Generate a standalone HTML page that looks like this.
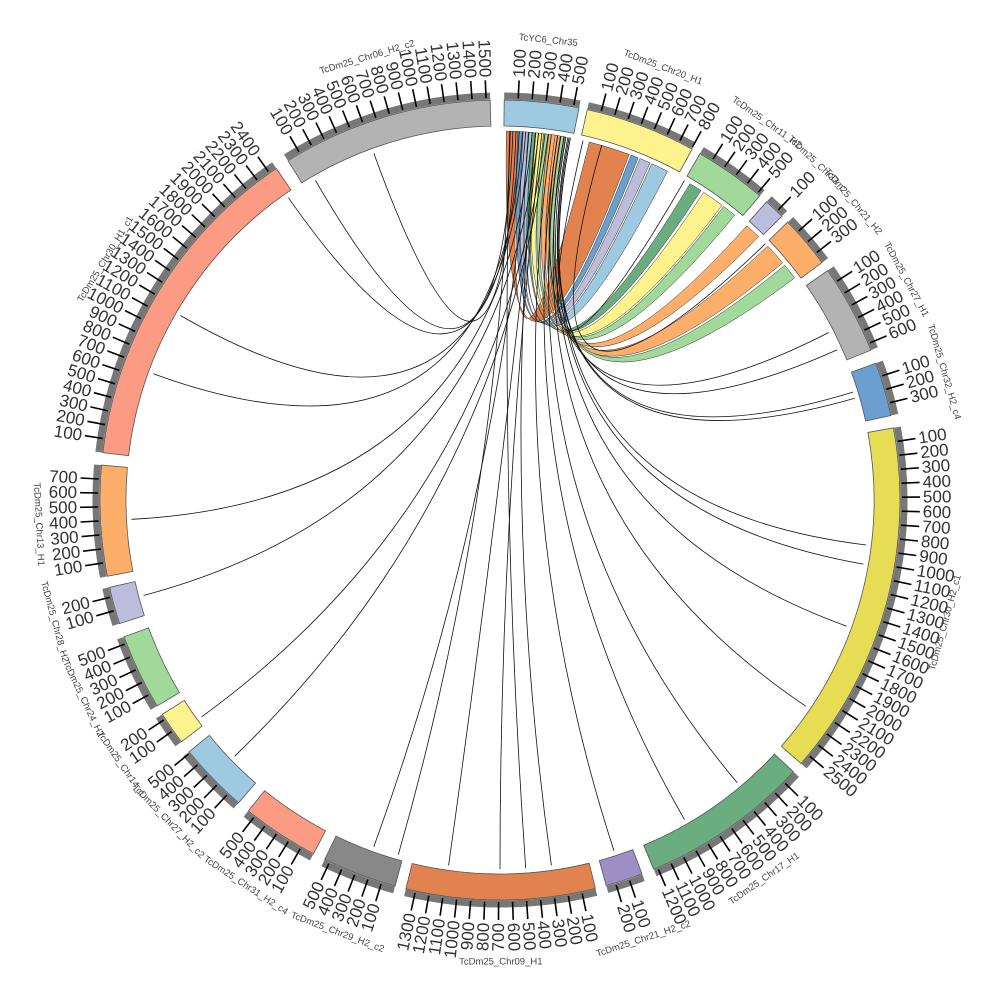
<!DOCTYPE html>
<html><head><meta charset="utf-8">
<style>html,body{margin:0;padding:0;background:#fff;}svg{display:block;}</style>
</head><body>
<svg id="s" width="1000" height="1000" xmlns="http://www.w3.org/2000/svg" font-family="Liberation Sans, sans-serif"></svg>
<script>
const S=document.getElementById('s');const C=500,R0=374,R1=400,RL=369;
const segs=[
["TcYC6_Chr35",0.6,11.4,"#9ecae1"],
["TcDm25_Chr20_H1",12.6,28.7,"#fdf28c"],
["TcDm25_Chr11_H2",30,40.5,"#a1d99b"],
["TcDm25_Chr33_c",41.8,44.8,"#bcbddc"],
["TcDm25_Chr21_H2",46,53.6,"#fdae6b"],
["TcDm25_Chr27_H1",55,68,"#b3b3b3"],
["TcDm25_Chr32_H2_c4",70,77.8,"#6a9fcf"],
["TcDm25_Chr30_H2_c1",79.6,131.2,"#e6dd55"],
["TcDm25_Chr17_H1",132.8,157.4,"#6aae7f"],
["TcDm25_Chr21_H2_c2",159.2,164.6,"#9d8ec6"],
["TcDm25_Chr09_H1",166.2,193.6,"#e1824f"],
["TcDm25_Chr29_H2_c2",195.2,206,"#888888"],
["TcDm25_Chr31_H2_c4",207.8,219,"#fb9b84"],
["TcDm25_Chr27_H2_c2",220.8,231,"#9ecae1"],
["TcDm25_Chr14_c",232.8,237.6,"#fdf28c"],
["TcDm25_Chr24_H2",239,250,"#a1d99b"],
["TcDm25_Chr28_H2",252,257.4,"#bcbddc"],
["TcDm25_Chr13_H1",259,275,"#fdae6b"],
["TcDm25_Chr30_H1_c1",276.8,326,"#fb9b84"],
["TcDm25_Chr06_H2_c2",328,358.6,"#b3b3b3"]];
function P(a,r){const t=a*Math.PI/180;return [(C+r*Math.sin(t)).toFixed(1),(C-r*Math.cos(t)).toFixed(1)];}
function A(r,a1,a2,sw,end){const p=P(end,r);return `A${r},${r} 0 ${Math.abs(a2-a1)>180?1:0},${sw} ${p[0]},${p[1]}`;}
let h='';
function rib(a1,a2,b1,b2,col){const p1=P(a1,RL),q1=P(b1,RL);
 h+=`<path d="M${p1} ${A(RL,a1,a2,1,a2)} Q${C},${C} ${q1} ${A(RL,b1,b2,1,b2)} Q${C},${C} ${p1}Z" fill="${col}" stroke="#333" stroke-width="0.5"/>`;}
function ln(a,b,col){const p=P(a,RL),q=P(b,RL);h+=`<path d="M${p} Q${C},${C} ${q}" fill="none" stroke="${col||'#111'}" stroke-width="0.8"/>`;}
rib(1.0,2.8,14,20.5,"#e1824f");rib(2.8,3.6,20.8,22,"#6a9fcf");rib(3.6,4.4,22.3,24,"#bcbddc");rib(4.4,5.0,24.3,27,"#9ecae1");
rib(5,5.6,31,33,"#6aae7f");rib(5.6,6.8,33.5,37,"#fdf28c");rib(6.8,7.6,37.3,39.5,"#a1d99b");
rib(7.6,8.6,42,44.5,"#fdae6b");rib(8.6,9.4,46.5,50,"#fdae6b");rib(9.4,10.2,50.5,53,"#a1d99b");
[[2,330],[3,325],[4,300],[3.5,290],[5,267],[6,255],[7,234],[7.5,226],[4.5,200],[5.5,172],[6.5,180],[8,162],[9,150],[9.5,140],[10,124],[10.3,110],[10.6,100],[11,97],[10.8,74],[11,73],[9,63],[10,66],[2.5,340],[1.5,176],[6,188],[1.6,196],[13,30],[16,46]].forEach(x=>ln(x[0],x[1]));
segs.forEach(s=>{const [n,a1,a2,c]=s;const p=P(a1,R0),q=P(a2,R1);
 h+=`<path d="M${p} ${A(R0,a1,a2,1,a2)} L${q} ${A(R1,a1,a2,0,a1)}Z" fill="${c}" stroke="#555" stroke-width="0.8"/>`;
});
segs.forEach(s=>{const [n,a1,a2]=s;
 const b1=P(a1,R1+4);
 h+=`<path d="M${b1} ${A(R1+4,a1,a2,1,a2)}" fill="none" stroke="#777" stroke-width="7"/>`;
 const len=(a2-a1)/0.02;
 for(let v=100;v<len;v+=100){const a=a1+v*0.02;const p=P(a,R1+2),q=P(a,R1+20);
  h+=`<line x1="${p[0]}" y1="${p[1]}" x2="${q[0]}" y2="${q[1]}" stroke="#000" stroke-width="1.6"/>`;
  const t=P(a,R1+23);let rot,anc;if(a<180){rot=a-90;anc='start';}else{rot=a+90;anc='end';}
   h+=`<text x="${t[0]}" y="${t[1]}" font-size="17" fill="#333" text-anchor="${anc}" dominant-baseline="central" transform="rotate(${rot} ${t[0]} ${t[1]})">${v}</text>`;
 }
 const m=(a1+a2)/2;const t=P(m,462);let rot=(m>90&&m<270)?m-180:m;
 h+=`<text x="${t[0]}" y="${t[1]}" font-size="9.5" fill="#444" text-anchor="middle" dominant-baseline="central" transform="rotate(${rot} ${t[0]} ${t[1]})">${n}</text>`;
});
S.innerHTML=h;
</script>
</body></html>
